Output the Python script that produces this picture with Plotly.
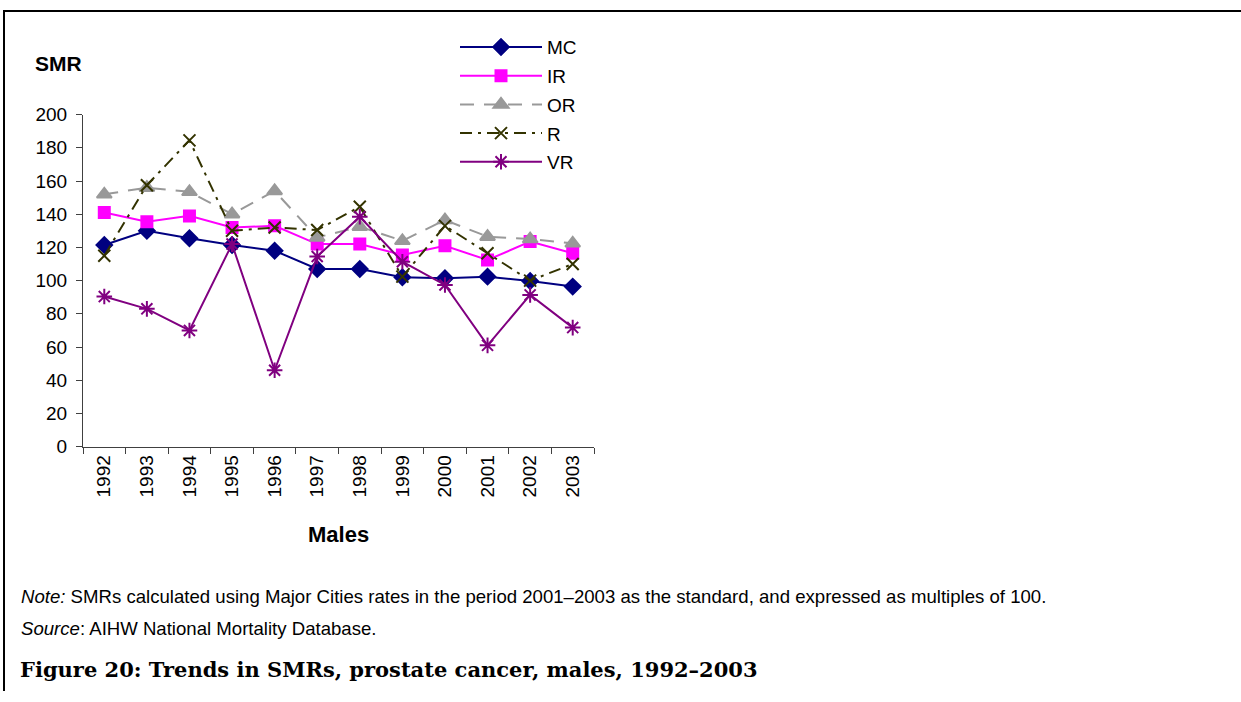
import plotly.graph_objects as go

years = ["1992", "1993", "1994", "1995", "1996", "1997", "1998", "1999", "2000", "2001", "2002", "2003"]
mc = [121.5, 130, 125.5, 121.5, 118, 107, 107, 102, 101.4, 102.4, 99.8, 96.4]
ir = [141, 135.5, 139, 132, 133, 122, 122, 115.5, 121, 112.4, 123.5, 116.5]
or_ = [152, 156, 153.5, 140, 154, 126, 132.5, 124, 136.5, 126.5, 125, 122.5]
r = [115, 157.5, 184.5, 130, 132, 130.5, 144.5, 102.4, 133, 116.5, 100, 110]
vr = [90.4, 83, 70, 122, 46, 114.5, 138.5, 111.4, 97.4, 61, 91.4, 71.7]
y_ticks = [0, 20, 40, 60, 80, 100, 120, 140, 160, 180, 200]

W, H = 1241, 702
FONT = "Liberation Sans, Arial, sans-serif"


def fy(py):
    # vertical pixel position (from top) -> paper fraction, corrected for the
    # vertical mapping observed in the photographed page
    p = (py - 9.9) / 0.970
    return 1 - p / H


series = [
    ("MC", mc, "#000080", "solid", "diamond", 12, 2),
    ("IR", ir, "#FF00FF", "solid", "square", 11, 2),
    ("OR", or_, "#999999", "14px,10px", "triangle-up", 13, 2),
    ("R", r, "#333300", "12px,6px,3px,6px", "x-thin-open", 12, 2),
    ("VR", vr, "#800080", "solid", "asterisk-open", 13, 2),
]

fig = go.Figure()
for name, vals, color, dash, sym, size, lw in series:
    fig.add_trace(go.Scatter(
        x=years, y=vals, name=name, legendgroup=name, mode="lines+markers",
        line=dict(color=color, width=lw, dash=dash),
        marker=dict(symbol=sym, size=size, color=color,
                    line=dict(color=color, width=2)),
    ))

fig.update_layout(
    width=W, height=H, autosize=False,
    margin=dict(l=0, r=0, t=0, b=0, pad=0),
    paper_bgcolor="white", plot_bgcolor="white",
    font=dict(family=FONT, size=19, color="black"),
    showlegend=True,
    legend=dict(x=455 / W, y=1 - 18.7 / H, xanchor="left", yanchor="top",
                font=dict(family=FONT, size=19), tracegroupgap=1,
                bgcolor="rgba(0,0,0,0)", itemwidth=82),
    xaxis=dict(domain=[83 / W, 594 / W], type="category", tickson="boundaries",
               range=[-0.5, 11.5],
               showline=True, linecolor="#404040", linewidth=1,
               ticks="outside", ticklen=6, tickcolor="#404040",
               tickangle=-90, tickfont=dict(size=19), showgrid=False,
               zeroline=False),
    yaxis=dict(domain=[fy(446.5), fy(114.5)], range=[0, 200],
               tickvals=y_ticks,
               showline=True, linecolor="#404040", linewidth=1,
               ticks="outside", ticklen=6, tickcolor="#404040",
               ticklabelstandoff=5,
               tickfont=dict(size=19), showgrid=False, zeroline=False),
    shapes=[
        dict(type="line", xref="paper", yref="paper", x0=3 / W, x1=1, y0=1 - 1 / H, y1=1 - 1 / H,
             line=dict(color="black", width=2)),
        dict(type="line", xref="paper", yref="paper", x0=4 / W, x1=4 / W, y0=0, y1=1,
             line=dict(color="black", width=2)),
    ],
    annotations=[
        dict(text="<b>SMR</b>", xref="paper", yref="paper", x=33 / W, y=fy(63),
             xanchor="left", yanchor="middle", showarrow=False, font=dict(size=21)),
        dict(text="<b>Males</b>", xref="paper", yref="paper", x=338 / W, y=fy(534),
             xanchor="center", yanchor="middle", showarrow=False, font=dict(size=22)),
        dict(text="<i>Note:</i> SMRs calculated using Major Cities rates in the period 2001–2003 as the standard, and expressed as multiples of 100.",
             xref="paper", yref="paper", x=19 / W, y=fy(596),
             xanchor="left", yanchor="middle", showarrow=False, font=dict(size=18.6)),
        dict(text="<i>Source</i>: AIHW National Mortality Database.",
             xref="paper", yref="paper", x=19 / W, y=fy(628),
             xanchor="left", yanchor="middle", showarrow=False, font=dict(size=18.6)),
        dict(text="<b>Figure 20: Trends in SMRs, prostate cancer, males, 1992–2003</b>",
             xref="paper", yref="paper", x=18 / W, y=fy(669),
             xanchor="left", yanchor="middle", showarrow=False,
             font=dict(family="DejaVu Serif, serif", size=21)),
    ],
)

post = (
    "document.documentElement.style.margin='0';"
    "document.body.style.margin='0';"
    "document.body.style.overflow='hidden';"
)

fig.write_html("out.html", config={"displayModeBar": False}, post_script=post)
